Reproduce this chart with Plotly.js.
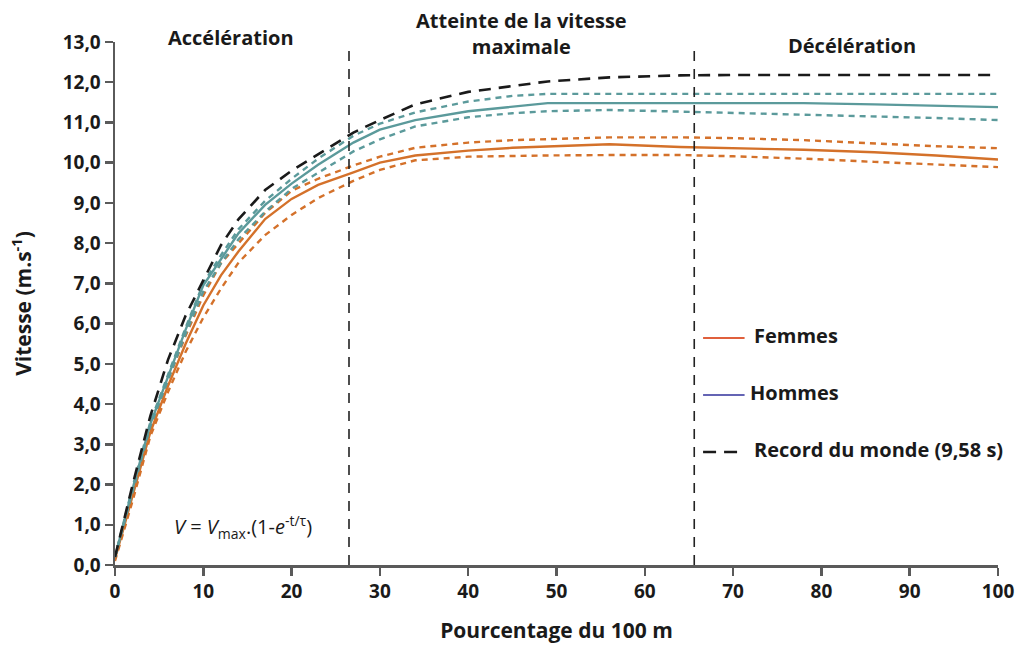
<!DOCTYPE html>
<html>
<head>
<meta charset="utf-8">
<script src="https://cdn.plot.ly/plotly-3.0.1.min.js"></script>
<style>html,body{margin:0;padding:0;background:#fff;}#chart{width:1032px;height:645px;}</style>
</head>
<body>
<div id="chart"></div>
<script>
// Percentage of the 100 m
var pct = [0, 2, 4, 6, 8, 10, 12, 14, 17, 20, 23, 27, 30, 34, 40, 45, 49, 56, 64, 70, 78, 86, 93, 100];
// World record (9,58 s)
var record = [0.2, 2.0, 3.7, 5.1, 6.2, 7.08, 7.95, 8.6, 9.32, 9.8, 10.2, 10.75, 11.06, 11.45, 11.76, 11.9, 12.02, 12.12, 12.17, 12.18, 12.18, 12.18, 12.18, 12.18];
// Men: mean, upper and lower bounds
var hommes = [0.2, 1.9, 3.5, 4.7, 5.85, 6.95, 7.6, 8.25, 8.95, 9.48, 9.95, 10.5, 10.82, 11.06, 11.28, 11.4, 11.48, 11.48, 11.48, 11.48, 11.48, 11.45, 11.41, 11.38];
var hommesHaut = [0.2, 1.95, 3.55, 4.75, 5.9, 7.0, 7.7, 8.35, 9.05, 9.6, 10.1, 10.67, 10.97, 11.25, 11.52, 11.66, 11.71, 11.71, 11.71, 11.71, 11.71, 11.71, 11.71, 11.71];
var hommesBas = [0.2, 1.85, 3.45, 4.6, 5.75, 6.8, 7.5, 8.1, 8.78, 9.35, 9.75, 10.28, 10.58, 10.9, 11.13, 11.23, 11.28, 11.31, 11.27, 11.24, 11.2, 11.15, 11.11, 11.06];
// Women: mean, upper and lower bounds
var femmes = [0.15, 1.75, 3.3, 4.45, 5.5, 6.45, 7.2, 7.8, 8.6, 9.1, 9.45, 9.76, 10.0, 10.18, 10.3, 10.37, 10.4, 10.46, 10.39, 10.36, 10.32, 10.26, 10.18, 10.08];
var femmesHaut = [0.2, 1.85, 3.4, 4.6, 5.7, 6.7, 7.5, 8.0, 8.75, 9.3, 9.6, 9.93, 10.15, 10.37, 10.5, 10.56, 10.59, 10.63, 10.63, 10.61, 10.56, 10.48, 10.41, 10.36];
var femmesBas = [0.1, 1.6, 3.2, 4.3, 5.3, 6.15, 6.87, 7.52, 8.2, 8.7, 9.12, 9.55, 9.82, 10.06, 10.15, 10.17, 10.18, 10.19, 10.19, 10.16, 10.1, 10.02, 9.96, 9.89];
// Phase boundaries (% of 100 m)
var phaseBounds = [26.5, 65.6];
var yTicks = [0,1,2,3,4,5,6,7,8,9,10,11,12,13];
var xTicks = [0,10,20,30,40,50,60,70,80,90,100];
var phaseLabels = ["Accélération", "Atteinte de la vitesse<br>maximale", "Décélération"];
var legendLabels = ["Femmes", "Hommes", "Record du monde (9,58 s)"];

var TEAL = "#5b9a9b", ORANGE = "#d4712a", BLACK = "#1a1a1a";
function tr(y, color, dash, w) {
  return {x: pct, y: y, type: "scatter", mode: "lines", hoverinfo: "skip", showlegend: false,
    line: {color: color, width: w || 2.4, dash: dash || "solid"}};
}
var data = [
  tr(femmesBas, ORANGE, "6px,5px"),
  tr(femmesHaut, ORANGE, "6px,5px"),
  tr(femmes, ORANGE, "solid"),
  tr(hommesBas, TEAL, "6px,5px"),
  tr(hommesHaut, TEAL, "6px,5px"),
  tr(hommes, TEAL, "solid"),
  tr(record, BLACK, "12px,8px", 2.6)
];

var shapes = phaseBounds.map(function (b) {
  return {type: "line", xref: "x", yref: "y", x0: b, x1: b, y0: 0, y1: 12.95,
    line: {color: "#222", width: 1.6, dash: "10px,8px"}};
});
// legend line samples (paper coords)
var legY = [0.434, 0.325, 0.216];
var legTextX = [0.721, 0.717, 0.721];
var legCol = ["#e0603c", "#6464b4", BLACK];
var legDash = ["solid", "solid", "13px,8px"];
legY.forEach(function (yy, i) {
  shapes.push({type: "line", xref: "paper", yref: "paper", x0: 0.666, x1: 0.713, y0: yy, y1: yy,
    line: {color: legCol[i], width: i === 2 ? 2.6 : 2, dash: legDash[i]}});
});

var FONT = "Open Sans, Lato, sans-serif";
var TXT = "#1a1a1a";
var annotations = [
  {xref: "x", yref: "paper", x: 13.1, y: 1.008, text: "<b>" + phaseLabels[0] + "</b>", showarrow: false, yanchor: "middle", font: {family: FONT, size: 20, color: TXT}},
  {xref: "x", yref: "paper", x: 46, y: 1.017, text: "<b>" + phaseLabels[1] + "</b>", showarrow: false, yanchor: "middle", font: {family: FONT, size: 20, color: TXT}},
  {xref: "x", yref: "paper", x: 83.5, y: 0.994, text: "<b>" + phaseLabels[2] + "</b>", showarrow: false, yanchor: "middle", font: {family: FONT, size: 20, color: TXT}},
  {xref: "x", yref: "y", x: 14.5, y: 0.95, text: "<i>V</i> = <i>V</i><sub>max</sub>.(1-<i>e</i><sup>-t/τ</sup>)", showarrow: false, yanchor: "middle", font: {family: FONT, size: 20, color: TXT}}
];
legY.forEach(function (yy, i) {
  annotations.push({xref: "paper", yref: "paper", x: legTextX[i], y: yy + 0.004, xanchor: "left", yanchor: "middle", text: "<b>" + legendLabels[i] + "</b>", showarrow: false, font: {family: FONT, size: 20, color: TXT}});
});

var layout = {
  width: 1032, height: 645,
  margin: {l: 115, r: 34, t: 42, b: 80, pad: 0},
  paper_bgcolor: "#fff", plot_bgcolor: "#fff",
  showlegend: false,
  font: {family: FONT, color: TXT},
  xaxis: {range: [0, 100], tickvals: xTicks, ticktext: xTicks.map(String), showgrid: false, zeroline: false,
    showline: true, linecolor: "#5a5a5a", linewidth: 2.5, ticks: "outside", ticklen: 8, tickwidth: 2.5, tickcolor: "#5a5a5a",
    tickfont: {family: FONT, size: 19, color: TXT, weight: "bold"},
    title: {text: "<b>Pourcentage du 100 m</b>", font: {family: FONT, size: 21, color: TXT}, standoff: 20}},
  yaxis: {range: [0, 13], tickvals: yTicks, ticktext: yTicks.map(function (v) { return v.toFixed(1).replace(".", ","); }),
    showgrid: false, zeroline: false,
    showline: true, linecolor: "#5a5a5a", linewidth: 2.5, ticks: "outside", ticklen: 8, tickwidth: 2.5, tickcolor: "#5a5a5a",
    tickfont: {family: FONT, size: 19, color: TXT, weight: "bold"},
    title: {text: "<b>Vitesse (m.s<sup>-1</sup>)</b>", font: {family: FONT, size: 21, color: TXT}, standoff: 26}},
  shapes: shapes,
  annotations: annotations
};
Plotly.newPlot("chart", data, layout, {displayModeBar: false, staticPlot: true});
</script>
</body>
</html>
